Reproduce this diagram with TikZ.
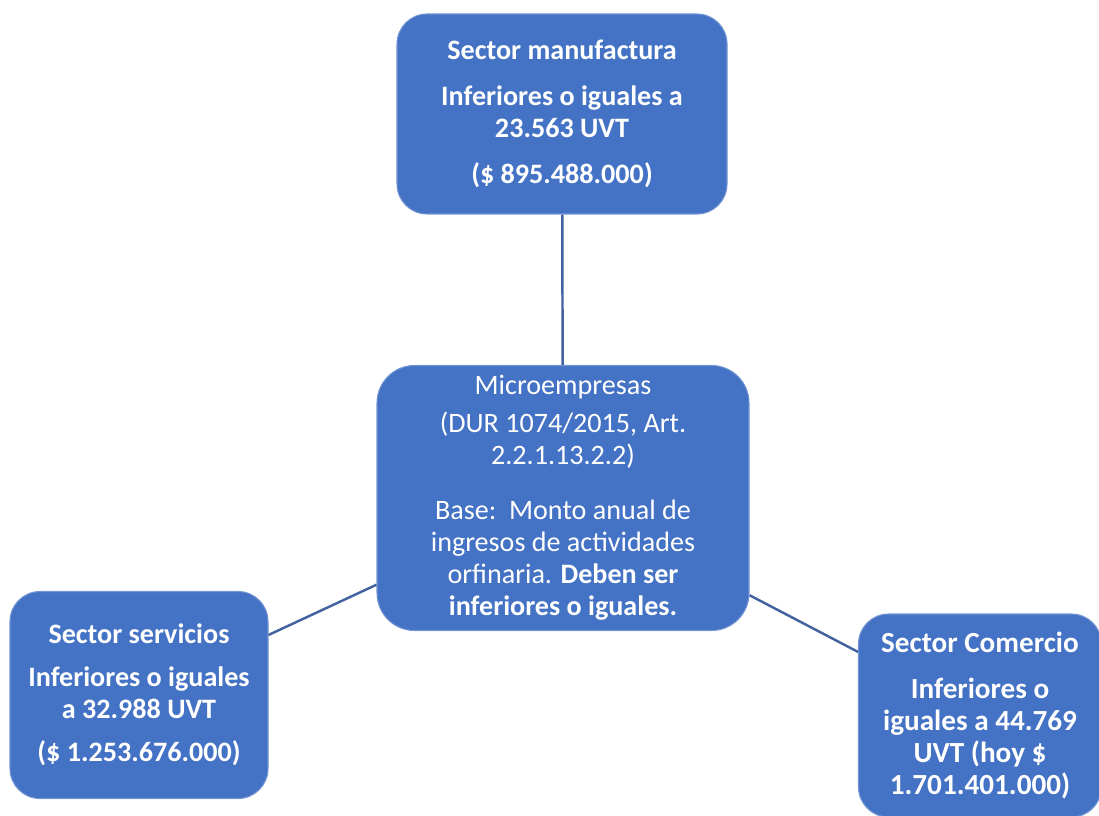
\documentclass[tikz,border=0pt]{standalone}
\usepackage{fontspec}
\setmainfont{Carlito}
\usepackage{tikz}
\usetikzlibrary{positioning}
\usepackage{xcolor}

\definecolor{boxblue}{RGB}{68,114,196}
\definecolor{linkblue}{RGB}{66,98,160}

\begin{document}
\begin{tikzpicture}[
  sectorbox/.style={draw=boxblue!75!white, line width=0.6pt, fill=boxblue,
    rounded corners=0.6cm, text=white, align=center,
    font=\fontsize{16}{18.3}\selectfont\bfseries},
  mainbox/.style={draw=boxblue!75!white, line width=0.6pt, fill=boxblue,
    rounded corners=0.75cm, text=white, align=center,
    font=\fontsize{16}{18.3}\selectfont},
  link/.style={linkblue, line width=1.4pt}
]

\clip (0,0) rectangle (21.98,16.30);
\useasboundingbox (0,0) rectangle (21.98,16.30);

% boxes
\node[sectorbox, minimum width=6.6cm, minimum height=4cm] (manuf) at (11.24,14.02)
  {Sector manufactura\\[8pt]
   Inferiores o iguales a\\
   23.563 UVT\\[8pt]
   (\$ 895.488.000)};

\node[mainbox, minimum width=7.44cm, minimum height=5.3cm] (micro) at (11.26,6.34)
  {Microempresas\\[3pt]
   (DUR 1074/2015, Art.\\
   2.2.1.13.2.2)\\[13pt]
   Base:\ \ Monto anual de\\
   ingresos de actividades\\
   orfinaria. \textbf{Deben ser}\\
   \textbf{inferiores o iguales.}};

\node[sectorbox, minimum width=5.16cm, minimum height=4.14cm] (serv) at (2.78,2.40)
  {Sector servicios\\[6pt]
   Inferiores o iguales\\
   a 32.988 UVT\\[6pt]
   (\$ 1.253.676.000)};

\node[sectorbox, minimum width=4.86cm, minimum height=4.06cm,
  font=\fontsize{16.6}{18.3}\selectfont\bfseries] (comer) at (19.60,1.99)
  {Sector Comercio\\[8pt]
   Inferiores o\\
   iguales a 44.769\\
   UVT (hoy \$\\
   1.701.401.000)};

% links
\draw[link] (manuf) -- (micro);
\draw[link] (micro) -- (serv);
\draw[link] (micro) -- (comer);

\end{tikzpicture}
\end{document}
